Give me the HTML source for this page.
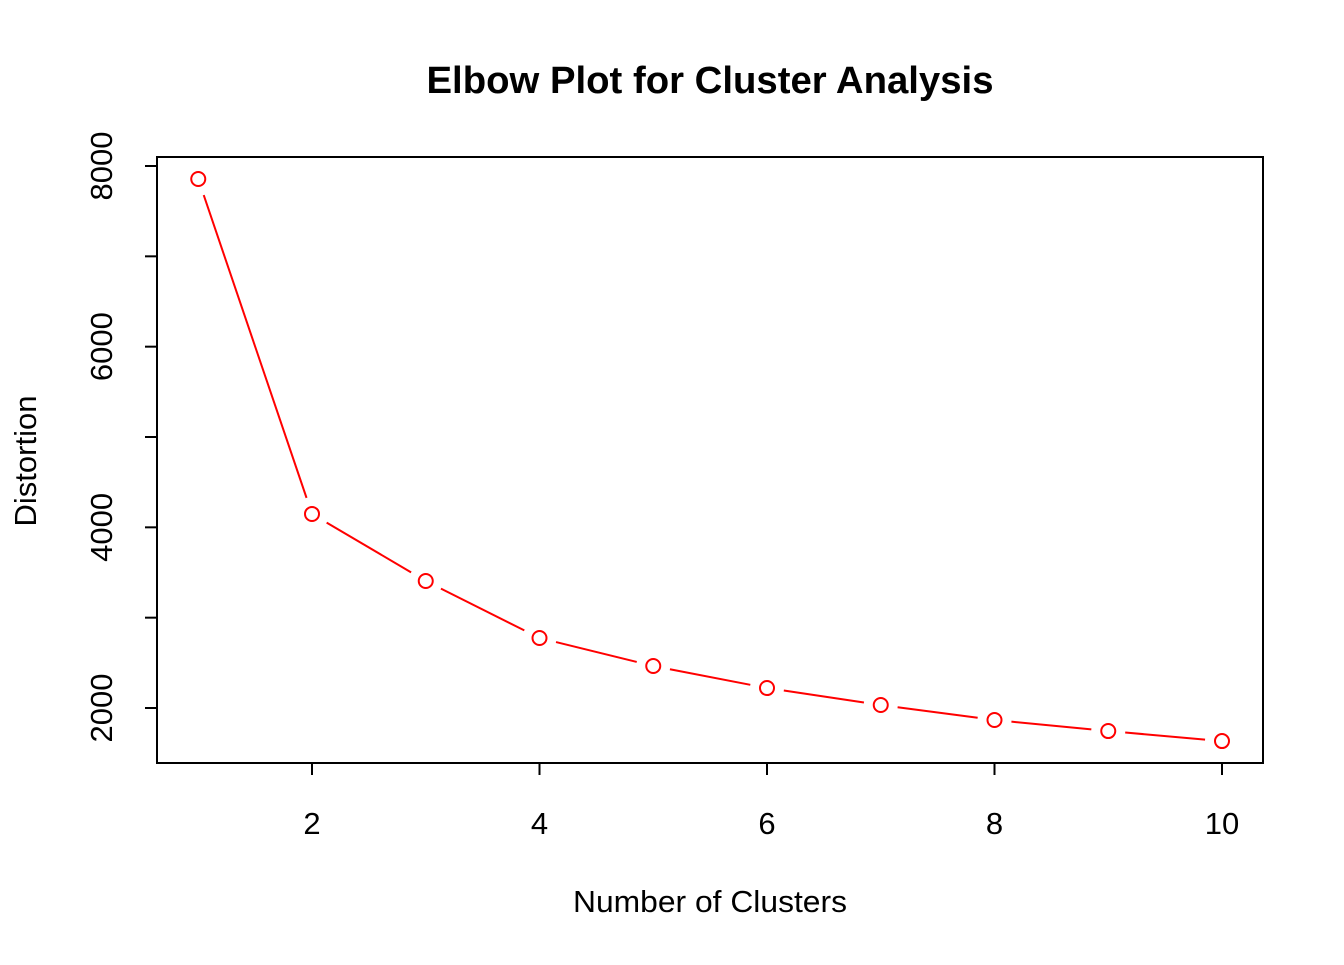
<!DOCTYPE html>
<html><head><meta charset="utf-8"><style>body{margin:0;background:#fff}svg text{font-family:"Liberation Sans",Arial,sans-serif}</style></head>
<body>
<svg id="chart" width="1344" height="960" xmlns="http://www.w3.org/2000/svg">
<text x="710" y="93" font-size="38" font-weight="bold" text-anchor="middle" textLength="567" lengthAdjust="spacingAndGlyphs">Elbow Plot for Cluster Analysis</text>
<rect x="157" y="157" width="1106" height="606" fill="none" stroke="#000" stroke-width="2"/>
<text x="710" y="912" font-size="31" text-anchor="middle" textLength="274" lengthAdjust="spacingAndGlyphs">Number of Clusters</text>
<text transform="translate(36,461) rotate(-90)" font-size="31" text-anchor="middle">Distortion</text>
<g id="axes"></g><g id="series"></g>
</svg>
<script>
const clusters=[1,2,3,4,5,6,7,8,9,10];
const distortion=[7856,4148,3406,2775,2465,2221,2033,1867,1745,1634];
const xTicks=[2,4,6,8,10];
const yTicks=[2000,3000,4000,5000,6000,7000,8000];
const yLabels=[2000,4000,6000,8000];
const NS='http://www.w3.org/2000/svg';
const xs=v=>312+(v-2)*113.75;
const ys=v=>708-(v-2000)*0.090333;
function mk(t,a,p){const e=document.createElementNS(NS,t);for(const k in a)e.setAttribute(k,a[k]);p.appendChild(e);return e;}
const ax=document.getElementById('axes'),se=document.getElementById('series');
xTicks.forEach(v=>{const l=mk('line',{x1:xs(v),x2:xs(v),y1:763,y2:775,stroke:'#000','stroke-width':2},ax);


const t=mk('text',{x:xs(v),y:834,'font-size':31,'text-anchor':'middle'},ax);t.textContent=v;

});
yTicks.forEach(v=>{const l=mk('line',{x1:145,x2:157,y1:ys(v),y2:ys(v),stroke:'#000','stroke-width':2},ax);

});
yLabels.forEach(v=>{const t=mk('text',{transform:`translate(112,${ys(v)}) rotate(-90)`,'font-size':31,'text-anchor':'middle'},ax);t.textContent=v;

});
const g=17;
for(let i=0;i<clusters.length-1;i++){
const x1=xs(clusters[i]),y1=ys(distortion[i]),x2=xs(clusters[i+1]),y2=ys(distortion[i+1]);
const d=Math.hypot(x2-x1,y2-y1);if(d<2*g)continue;const ux=(x2-x1)/d,uy=(y2-y1)/d;
const l=mk('line',{x1:x1+ux*g,y1:y1+uy*g,x2:x2-ux*g,y2:y2-uy*g,stroke:'#f00','stroke-width':2},se);

}
clusters.forEach((c,i)=>{const p=mk('circle',{cx:xs(c),cy:ys(distortion[i]),r:7,fill:'#fff',stroke:'#f00','stroke-width':2},se);

});
</script>
</body></html>
